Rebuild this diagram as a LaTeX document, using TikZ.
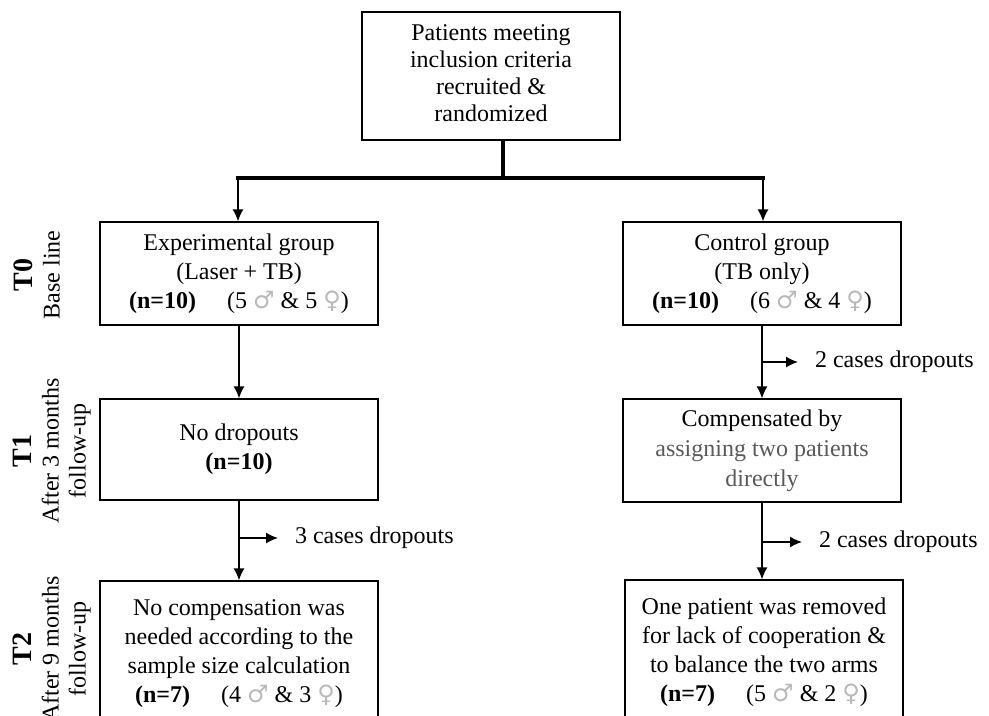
\documentclass[tikz,border=0pt]{standalone}
\usepackage{fontspec}
\setmainfont{Liberation Serif}
\newfontfamily\symfont{DejaVu Sans}
\usetikzlibrary{arrows.meta}
\newcommand{\msym}{{\symfont\color{gray!55}♂}}
\newcommand{\fsym}{{\symfont\color{gray!55}♀}}
\tikzset{
  every node/.style={font=\fontsize{12}{14.5}\selectfont},
  stagebox/.style={draw, line width=0.6pt, minimum width=139pt, align=center, inner sep=2pt},
  flow/.style={line width=0.75pt, -{Latex[length=6pt,width=5.5pt]}},
  bar/.style={line width=1.6pt},
  timelabel/.style={rotate=90, align=center, font=\fontsize{12}{13.5}\selectfont}
}
\begin{document}
\begin{tikzpicture}
    \useasboundingbox (0pt,0pt) rectangle (494.5pt,-358pt);
    % top box
    \node[stagebox, minimum width=129pt, minimum height=64pt, font=\fontsize{12}{13.5}\selectfont] (recruit) at (245.5pt,-38pt)
        {\raisebox{2.5pt}{\begin{tabular}{@{}c@{}}Patients meeting\\inclusion criteria\\recruited \&\\randomized\end{tabular}}};
    % T0
    \node[stagebox, minimum height=51.5pt] (expgroup) at (119.5pt,-136.75pt)
        {Experimental group\\(Laser + TB)\\\textbf{(n=10)}\hspace{1.3em}(5 \msym{} \& 5 \fsym)};
    \node[stagebox, minimum height=51.5pt] (ctrlgroup) at (381pt,-136.75pt)
        {Control group\\(TB only)\\\textbf{(n=10)}\hspace{1.3em}(6 \msym{} \& 4 \fsym)};
    % T1
    \node[stagebox, minimum height=50.5pt] (expfirst) at (119.5pt,-224.75pt)
        {No dropouts\\\textbf{(n=10)}};
    \node[stagebox, minimum height=51.5pt, font=\fontsize{12}{15}\selectfont] (ctrlfirst) at (381pt,-225.25pt)
        {Compensated by\\\textcolor{black!65}{assigning two patients}\\\textcolor{black!65}{directly}};
    % T2
    \node[stagebox, minimum height=72.5pt] (expsecond) at (119.5pt,-326.75pt)
        {No compensation was\\needed according to the\\sample size calculation\\\textbf{(n=7)}\hspace{1.3em}(4 \msym{} \& 3 \fsym)};
    \node[stagebox, minimum height=72.5pt] (ctrlsecond) at (382pt,-326.25pt)
        {One patient was removed\\for lack of cooperation \&\\to balance the two arms\\\textbf{(n=7)}\hspace{1.3em}(5 \msym{} \& 2 \fsym)};
    % time labels
    \node[timelabel] (tzero) at (18.5pt,-137.5pt) {\textbf{\fontsize{14}{14}\selectfont T0}\\Base line};
    \node[timelabel] (tone) at (26pt,-225.5pt) {\textbf{\fontsize{14}{14}\selectfont T1}\\After 3 months\\follow-up};
    \node[timelabel] (ttwo) at (26pt,-324.5pt) {\textbf{\fontsize{14}{14}\selectfont T2}\\After 9 months\\follow-up};
    % randomization split
    \coordinate (split) at (251.5pt,-89pt);
    \coordinate (splitleft) at (119pt,-89pt);
    \coordinate (splitright) at (381.5pt,-89pt);
    \draw[bar] (split |- recruit.south) -- (split);
    \draw[bar] ([xshift=-0.8pt]splitleft) -- ([xshift=0.8pt]splitright);
    \draw[flow] (splitleft) -- (splitleft |- expgroup.north);
    \draw[flow] (splitright) -- (splitright |- ctrlgroup.north);
    % follow-up
    \draw[flow] (expgroup) -- (expfirst);
    \draw[flow] (expfirst) -- (expsecond);
    \draw[flow] (ctrlgroup) -- (ctrlfirst);
    \draw[flow] (ctrlfirst.south) -- (ctrlfirst.south |- ctrlsecond.north);
    % dropouts
    \coordinate (dropa) at (381pt,-181pt);
    \coordinate (dropb) at (119.5pt,-269pt);
    \coordinate (dropc) at (381pt,-271pt);
    \node[anchor=west] (dropatext) at (404pt,-181pt) {2 cases dropouts};
    \node[anchor=west] (dropbtext) at (144pt,-269pt) {3 cases dropouts};
    \node[anchor=west] (dropctext) at (406pt,-271pt) {2 cases dropouts};
    \draw[flow, shorten >=5pt] (dropa) -- (dropatext.west);
    \draw[flow, shorten >=5pt] (dropb) -- (dropbtext.west);
    \draw[flow, shorten >=5pt] (dropc) -- (dropctext.west);
\end{tikzpicture}
\end{document}
